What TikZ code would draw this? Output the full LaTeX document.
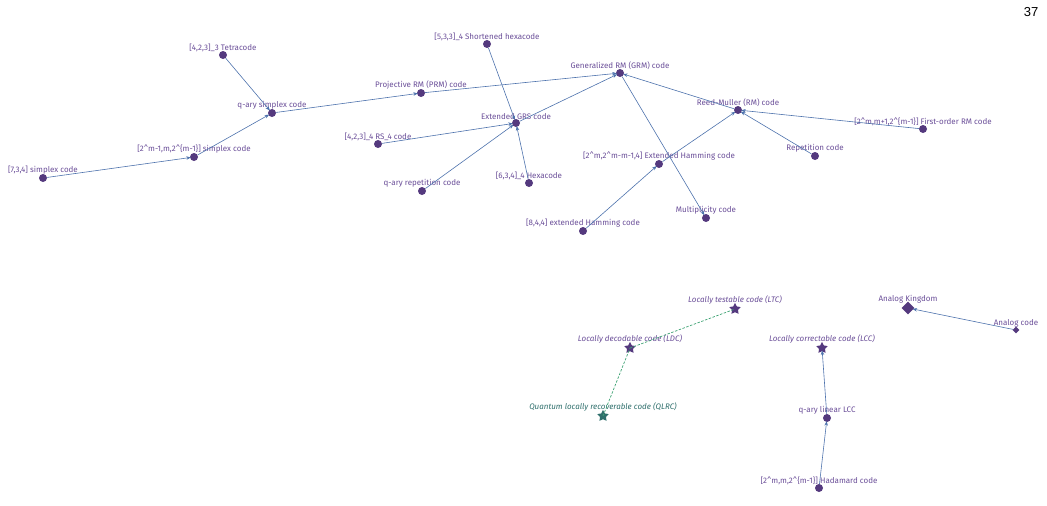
\documentclass[tikz,border=0pt]{standalone}
\usepackage{fontspec}
\setmainfont{Fira Sans}
\newfontfamily\pagefont{Liberation Sans}
\usetikzlibrary{arrows.meta, shapes.geometric}
\definecolor{nodepurple}{HTML}{54397E}
\definecolor{labelpurple}{HTML}{6A4E98}
\definecolor{edgeblue}{HTML}{4D72AC}
\definecolor{dashgreen}{HTML}{3DA273}
\definecolor{quantteal}{HTML}{2F6F6C}

\tikzset{
  codept/.style={circle, fill=nodepurple, inner sep=0pt, minimum size=8pt},
  kingpt/.style={star, star points=5, star point ratio=1.9, fill=nodepurple, inner sep=0pt, minimum size=12pt},
  realmpt/.style={diamond, fill=nodepurple, inner sep=0pt, minimum size=#1},
  lbl/.style={font=\fontsize{8}{9}\selectfont, text=labelpurple, inner sep=0pt, label distance=-1pt},
  ilbl/.style={lbl, font=\fontsize{8}{9}\selectfont\itshape, label distance=-1.5pt},
  edge/.style={draw=edgeblue, line width=0.6pt, -{Stealth[length=4.5pt,width=3.5pt]}, shorten >=-1pt},
  lnk/.style={draw=dashgreen, line width=0.7pt, dashed, dash pattern=on 2.5pt off 1.5pt}
}

\begin{document}
\begin{tikzpicture}[x=1pt, y=-1pt]
\useasboundingbox (0,0) rectangle (1047,506);
\node[font=\pagefont\fontsize{13}{13}\selectfont] (pagenum) at (1031,12) {37};

% top graph
\node[codept, label={[lbl]above:{[4,2,3]\_3 Tetracode}}] (tetra) at (223,55) {};
\node[codept, label={[lbl]above:{q-ary simplex code}}] (qsimplex) at (272,113) {};
\node[codept, label={[lbl]above:{[2\textasciicircum m-1,m,2\textasciicircum\{m-1\}] simplex code}}] (simplexm) at (194,157) {};
\node[codept, label={[lbl]above:{[7,3,4] simplex code}}] (simplex734) at (43,178) {};
\node[codept, label={[lbl]above:{Projective RM (PRM) code}}] (prm) at (421,93) {};
\node[codept, label={[lbl]above:{[5,3,3]\_4 Shortened hexacode}}] (shorthexa) at (487,44) {};
\node[codept, label={[lbl]above:{Generalized RM (GRM) code}}] (grm) at (620,73) {};
\node[codept, label={[lbl]above:{Extended GRS code}}] (egrs) at (516,123) {};
\node[codept, label={[lbl]above:{[4,2,3]\_4 RS\_4 code}}] (rsfour) at (378,144) {};
\node[codept, label={[lbl]above:{q-ary repetition code}}] (qrep) at (422,191) {};
\node[codept, label={[lbl]above:{[6,3,4]\_4 Hexacode}}] (hexa) at (529,183) {};
\node[codept, label={[lbl]above:{[2\textasciicircum m,2\textasciicircum m-m-1,4] Extended Hamming code}}] (exthamm) at (659,164) {};
\node[codept, label={[lbl]above:{Reed-Muller (RM) code}}] (rm) at (738,110) {};
\node[codept, label={[lbl]above:{[2\textasciicircum m,m+1,2\textasciicircum\{m-1\}] First-order RM code}}] (firstrm) at (923,129) {};
\node[codept, label={[lbl]above:{Repetition code}}] (rep) at (815,156) {};
\node[codept, label={[lbl]above:{Multiplicity code}}] (mult) at (706,218) {};
\node[codept, label={[lbl]above:{[8,4,4] extended Hamming code}}] (hamm) at (583,231) {};

\draw[edge] (tetra) -- (qsimplex);
\draw[edge] (simplexm) -- (qsimplex);
\draw[edge] (simplex734) -- (simplexm);
\draw[edge] (qsimplex) -- (prm);
\draw[edge] (prm) -- (grm);
\draw[edge] (shorthexa) -- (egrs);
\draw[edge] (rsfour) -- (egrs);
\draw[edge] (qrep) -- (egrs);
\draw[edge] (hexa) -- (egrs);
\draw[edge] (egrs) -- (grm);
\draw[edge] (rm) -- (grm);
\draw[edge] (grm) -- (mult);
\draw[edge] (exthamm) -- (rm);
\draw[edge] (hamm) -- (exthamm);
\draw[edge] (firstrm) -- (rm);
\draw[edge] (rep) -- (rm);

% kingdoms
\node[kingpt, label={[ilbl]above:{Locally testable code (LTC)}}] (ltc) at (735,309) {};
\node[kingpt, label={[ilbl]above:{Locally decodable code (LDC)}}] (ldc) at (630,348) {};
\node[kingpt, fill=quantteal, label={[ilbl, text=quantteal]above:{Quantum locally recoverable code (QLRC)}}] (qlrc) at (603,416) {};
\node[kingpt, label={[ilbl]above:{Locally correctable code (LCC)}}] (lcc) at (822,348) {};
\node[codept, label={[lbl]above:{q-ary linear LCC}}] (qlcc) at (827,418) {};
\node[codept, label={[lbl]above:{[2\textasciicircum m,m,2\textasciicircum\{m-1\}] Hadamard code}}] (hadamard) at (819,488) {};
\node[realmpt=13pt, label={[lbl, label distance=-2pt]above:{Analog Kingdom}}] (analogk) at (908,308) {};
\node[realmpt=7pt, label={[lbl]above:{Analog code}}] (analog) at (1016,330) {};

\draw[lnk] (ldc.center) -- (ltc.center);
\draw[lnk] (qlrc.center) -- (ldc.center);
\draw[edge] (qlcc) -- (lcc);
\draw[edge] (hadamard) -- (qlcc);
\draw[edge] (analog) -- (analogk);
\end{tikzpicture}
\end{document}
